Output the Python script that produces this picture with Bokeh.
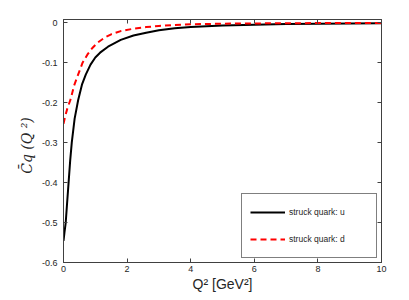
from bokeh.plotting import figure
from bokeh.models import LinearAxis, FixedTicker, Range1d
from bokeh.embed import file_html
from bokeh.resources import INLINE

# Data
q2_u = [0, 0.03, 0.07, 0.11, 0.16, 0.21, 0.26, 0.35, 0.46, 0.58, 0.7, 0.85, 1.0, 1.15,
        1.4, 1.8, 2.2, 2.6, 3.0, 3.5, 4.0, 5.0, 6.0, 7.0, 8.0, 9.0, 10.0]
c_u = [-0.546, -0.525, -0.50, -0.455, -0.40, -0.345, -0.30, -0.24, -0.194, -0.155, -0.13,
       -0.105, -0.087, -0.075, -0.06, -0.043, -0.032, -0.025, -0.019, -0.014, -0.011,
       -0.007, -0.005, -0.0035, -0.0025, -0.002, -0.0015]

q2_d = [0, 0.05, 0.12, 0.23, 0.33, 0.45, 0.6, 0.75, 0.9, 1.07, 1.3, 1.5, 1.8, 2.2, 2.6,
        3.0, 3.5, 4.0, 5.0, 6.0, 7.0, 8.0, 9.0, 10.0]
c_d = [-0.253, -0.235, -0.215, -0.19, -0.158, -0.132, -0.10, -0.08, -0.064, -0.05, -0.037,
       -0.029, -0.021, -0.015, -0.011, -0.008, -0.0055, -0.004, -0.0025, -0.0018, -0.0013,
       -0.001, -0.0008, -0.0006]

x_ticks = [0, 2, 4, 6, 8, 10]
y_ticks = [-0.6, -0.5, -0.4, -0.3, -0.2, -0.1, 0]
y_tick_labels = ["-0.6", "-0.5", "-0.4", "-0.3", "-0.2", "-0.1", "0"]

series_labels = ["struck quark: u", "struck quark: d"]

p = figure(width=408, height=299, output_backend="svg", toolbar_location=None,
           x_range=Range1d(0, 10), y_range=Range1d(-0.6, 0.008),
           min_border_left=63, min_border_right=27, min_border_top=19, min_border_bottom=37,
           x_axis_label="Q² [GeV²]", y_axis_label="C̄q  (Q  ²)")
p.grid.visible = False
p.background_fill_color = "white"
p.border_fill_color = "white"
p.outline_line_color = "#404040"

axis_color = "#404040"
tick_font = "Liberation Sans"

for ax in p.xaxis:
    ax.ticker = FixedTicker(ticks=x_ticks)
for ax in p.yaxis:
    ax.ticker = FixedTicker(ticks=y_ticks)
    ax.major_label_overrides = {t: l for t, l in zip(y_ticks, y_tick_labels)}

for ax in list(p.xaxis) + list(p.yaxis):
    ax.axis_line_color = axis_color
    ax.major_tick_line_color = axis_color
    ax.major_tick_in = 4
    ax.major_tick_out = 0
    ax.minor_tick_line_color = None
    ax.major_label_text_font = tick_font
    ax.major_label_text_font_size = "9px"
    ax.major_label_text_color = "#262626"

p.xaxis.major_label_standoff = 3
p.xaxis.axis_label_standoff = 1
p.xaxis.axis_label_text_font = "Liberation Sans"
p.xaxis.axis_label_text_font_style = "normal"
p.xaxis.axis_label_text_font_size = "14px"
p.xaxis.axis_label_text_color = "#262626"

p.yaxis.major_label_standoff = 6
p.yaxis.axis_label_standoff = 4
p.yaxis.axis_label_text_font = "DejaVu Serif"
p.yaxis.axis_label_text_font_style = "italic"
p.yaxis.axis_label_text_font_size = "14px"
p.yaxis.axis_label_text_color = "#262626"

# box axes (top and right) with inward ticks, labels not drawn
top = LinearAxis(ticker=FixedTicker(ticks=x_ticks))
right = LinearAxis(ticker=FixedTicker(ticks=y_ticks))
for ax in (top, right):
    ax.axis_line_color = axis_color
    ax.major_tick_line_color = axis_color
    ax.major_tick_in = 4
    ax.major_tick_out = 0
    ax.minor_tick_line_color = None
    ax.major_label_text_color = None
    ax.major_label_text_font_size = "1px"
    ax.major_label_standoff = 0
p.add_layout(top, "above")
p.add_layout(right, "right")

p.line(q2_u, c_u, line_color="black", line_width=2, legend_label=series_labels[0])
p.line(q2_d, c_d, line_color="red", line_width=2, line_dash="6 4",
       legend_label=series_labels[1])

lg = p.legend[0]
lg.location = "bottom_right"
lg.margin = 4
lg.border_line_color = "black"
lg.border_line_width = 1
lg.background_fill_color = "white"
lg.background_fill_alpha = 1
lg.padding = 8
lg.spacing = 7
lg.glyph_width = 35
lg.glyph_height = 20
lg.label_height = 20
lg.label_width = 79
lg.label_standoff = 4
lg.label_text_font = "Liberation Sans"
lg.label_text_font_size = "8.5px"
lg.label_text_color = "#262626"

open("out.html", "w").write(file_html(p, INLINE))
